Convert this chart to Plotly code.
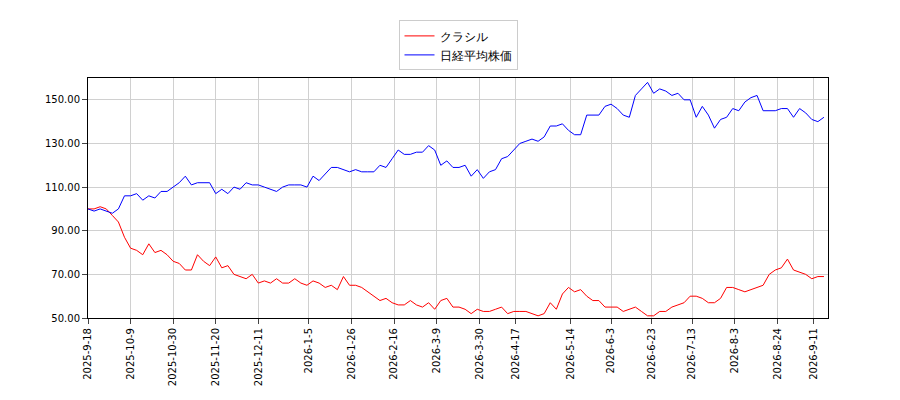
import pandas as pd
import plotly.graph_objects as go

# values every 3 days from 2025-09-18 (relative price, start = 100)
kurashiru = [100, 100, 101, 100, 97, 94, 87, 82, 81, 79,
             84, 80, 81, 79, 76, 75, 72, 72, 79, 76,
             74, 78, 73, 74, 70, 69, 68, 70, 66, 67,
             66, 68, 66, 66, 68, 66, 65, 67, 66, 64,
             65, 63, 69, 65, 65, 64, 62, 60, 58, 59,
             57, 56, 56, 58, 56, 55, 57, 54, 58, 59,
             55, 55, 54, 52, 54, 53, 53, 54, 55, 52,
             53, 53, 53, 52, 51, 52, 57, 54, 61, 64,
             62, 63, 60, 58, 58, 55, 55, 55, 53, 54,
             55, 53, 51, 51, 53, 53, 55, 56, 57, 60,
             60, 59, 57, 57, 59, 64, 64, 63, 62, 63,
             64, 65, 70, 72, 73, 77, 72, 71, 70, 68,
             69, 69]
nikkei = [100, 99, 100, 99, 98, 100, 106, 106, 107, 104,
          106, 105, 108, 108, 110, 112, 115, 111, 112, 112,
          112, 107, 109, 107, 110, 109, 112, 111, 111, 110,
          109, 108, 110, 111, 111, 111, 110, 115, 113, 116,
          119, 119, 118, 117, 118, 117, 117, 117, 120, 119,
          123, 127, 125, 125, 126, 126, 129, 127, 120, 122,
          119, 119, 120, 115, 118, 114, 117, 118, 123, 124,
          127, 130, 131, 132, 131, 133, 138, 138, 139, 136,
          134, 134, 143, 143, 143, 147, 148, 146, 143, 142,
          152, 155, 158, 153, 155, 154, 152, 153, 150, 150,
          142, 147, 143, 137, 141, 142, 146, 145, 149, 151,
          152, 145, 145, 145, 146, 146, 142, 146, 144, 141,
          140, 142]
dates = pd.date_range("2025-09-18", periods=len(nikkei), freq="3D")

tick_text = ["2025-9-18", "2025-10-9", "2025-10-30", "2025-11-20", "2025-12-11",
             "2026-1-5", "2026-1-26", "2026-2-16", "2026-3-9", "2026-3-30",
             "2026-4-17", "2026-5-14", "2026-6-3", "2026-6-23", "2026-7-13",
             "2026-8-3", "2026-8-24", "2026-9-11"]
tick_dates = pd.to_datetime(tick_text)

fig = go.Figure()
fig.add_trace(go.Scatter(x=dates, y=kurashiru, mode="lines", name="クラシル",
                         line=dict(color="red", width=1)))
fig.add_trace(go.Scatter(x=dates, y=nikkei, mode="lines", name="日経平均株価",
                         line=dict(color="blue", width=1)))

fig.update_layout(
    width=900, height=400,
    margin=dict(l=80, r=80, t=70, b=90),
    plot_bgcolor="white", paper_bgcolor="white",
    font=dict(family="DejaVu Sans", size=10, color="black"),
    legend=dict(x=0.5, y=1.24, xanchor="center", yanchor="top",
                bordercolor="#cccccc", borderwidth=1, font=dict(size=12),
                tracegroupgap=0),
    showlegend=True,
)
fig.update_xaxes(range=[dates[0], pd.Timestamp("2026-09-18")],
                 tickvals=tick_dates, ticktext=tick_text, tickangle=-90,
                 showgrid=True, gridcolor="#d0d0d0", ticks="outside",
                 showline=True, linecolor="black", mirror=True, zeroline=False)
fig.update_yaxes(range=[50, 160], tickvals=[50, 70, 90, 110, 130, 150],
                 tickformat=".2f", showgrid=True, gridcolor="#d0d0d0",
                 ticks="outside", showline=True, linecolor="black", mirror=True,
                 zeroline=False)

fig.write_html("out.html")
